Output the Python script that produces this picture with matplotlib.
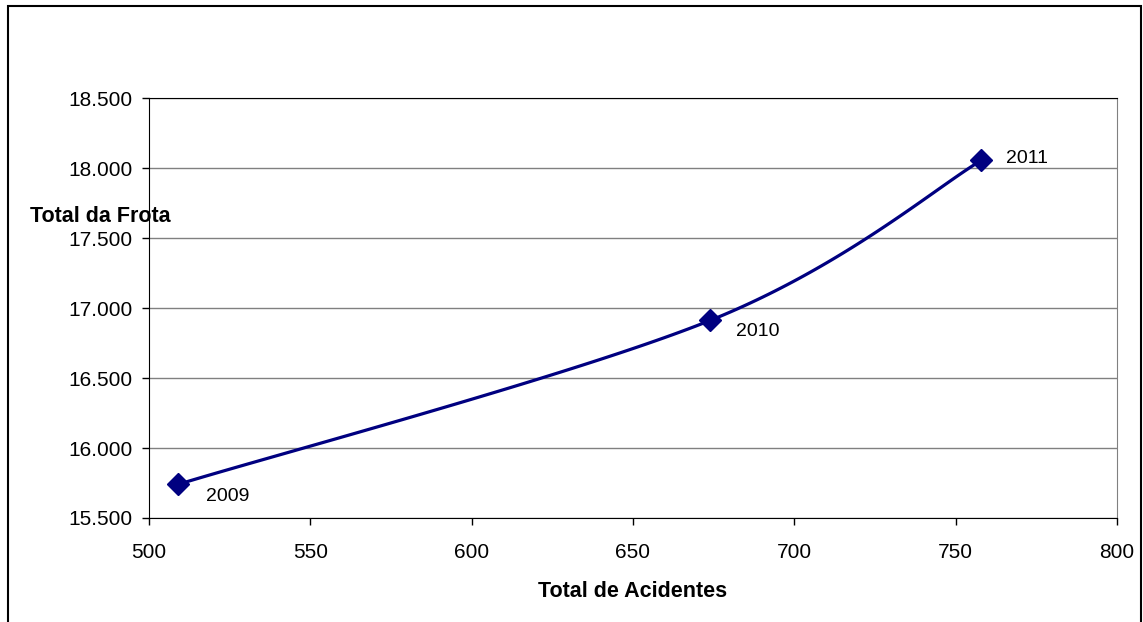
import numpy as np
import matplotlib
matplotlib.use('Agg')
import matplotlib.pyplot as plt
from matplotlib.patches import Rectangle

plt.rcParams['font.family'] = ['Liberation Sans', 'DejaVu Sans']

acidentes = [509, 674, 758]
frota = [15740, 16912, 18055]
anos = ['2009', '2010', '2011']

x_ticks = [500, 550, 600, 650, 700, 750, 800]
y_ticks = [15500, 16000, 16500, 17000, 17500, 18000, 18500]


def smooth(xs, ys, n=60):
    # bezier curve through the points, like a spreadsheet "smoothed line"
    p = np.column_stack([xs, ys]).astype(float)
    out = []
    for i in range(len(p) - 1):
        p0 = p[i - 1] if i > 0 else p[i]
        p3 = p[i + 2] if i + 2 < len(p) else p[i + 1]
        c1 = p[i] + (p[i + 1] - p0) / 6
        c2 = p[i + 1] - (p3 - p[i]) / 6
        t = np.linspace(0, 1, n)[:, None]
        seg = ((1 - t) ** 3) * p[i] + 3 * ((1 - t) ** 2) * t * c1 \
            + 3 * (1 - t) * t ** 2 * c2 + t ** 3 * p[i + 1]
        out.append(seg)
    c = np.vstack(out)
    return c[:, 0], c[:, 1]


fig = plt.figure(figsize=(11.43, 6.22), dpi=100)
ax = fig.add_axes([149 / 1143, 1 - 518 / 622, 968 / 1143, 420 / 622])

sx, sy = smooth(acidentes, frota)
ax.plot(sx, sy, color='#000080', lw=2.3, zorder=3)
ax.plot(acidentes, frota, linestyle='none', marker='D', markersize=11,
        color='#000080', zorder=4)

offsets = [(20, -8.5), (18.5, -8), (18, 1.5)]
for x, y, a, (dx, dy) in zip(acidentes, frota, anos, offsets):
    ax.annotate(a, (x, y), xytext=(dx, dy), textcoords='offset points',
                fontsize=14, va='center', ha='left')

ax.set_xlim(500, 800)
ax.set_ylim(15500, 18500)
ax.set_xticks(x_ticks)
ax.set_yticks(y_ticks)
ax.set_xticklabels([str(v) for v in x_ticks], fontsize=15)
ax.set_yticklabels([f'{v:,}'.replace(',', '.') for v in y_ticks], fontsize=15)
ax.tick_params(direction='out', length=5, width=1, color='black', pad=7)
ax.tick_params(axis='x', pad=13)

ax.yaxis.grid(True, color='#808080', lw=1)
ax.set_axisbelow(True)
ax.spines['top'].set_color('black')
ax.spines['right'].set_color('#808080')
for s in ['left', 'bottom']:
    ax.spines[s].set_color('black')

ax.set_xlabel('Total de Acidentes', fontsize=15.5, fontweight='bold', labelpad=14)
fig.text(30 / 1143, 1 - 217 / 622, 'Total da Frota', fontsize=15.5,
         fontweight='bold', va='center', ha='left')

fig.patches.append(Rectangle((8 / 1143, -0.1), 1133 / 1143, 1.1 - 6 / 622,
                             transform=fig.transFigure, fill=False,
                             edgecolor='black', lw=1.5))

fig.savefig('out.png', dpi=100)
